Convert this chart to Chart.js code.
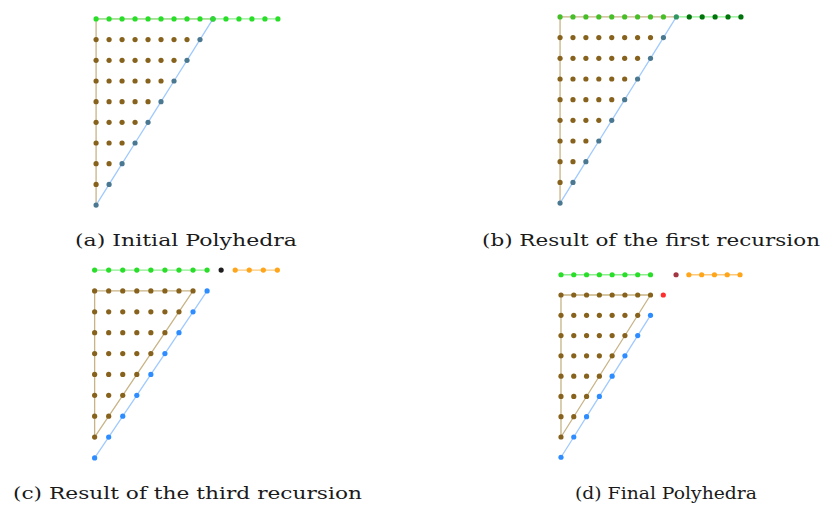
<!DOCTYPE html>
<html><head><meta charset="utf-8">
<script src="https://cdn.jsdelivr.net/npm/chart.js@4"></script>
<style>
html,body{margin:0;padding:0;background:#fff;width:824px;height:507px;overflow:hidden;position:relative}
canvas{position:absolute}
.cap{position:absolute;font-family:"DejaVu Serif",serif;font-size:17.5px;color:#1a1a1a;white-space:nowrap;line-height:1;transform-origin:0 0}
</style></head>
<body>
<canvas id="ca"></canvas><canvas id="cb"></canvas><canvas id="cc"></canvas><canvas id="cd"></canvas>
<div class="cap" id="ta">(a) Initial Polyhedra</div>
<div class="cap" id="tb">(b) Result of the first recursion</div>
<div class="cap" id="tc">(c) Result of the third recursion</div>
<div class="cap" id="td">(d) Final Polyhedra</div>
<script>
// ---------- data (grid coordinates) ----------
// Panel (a)
const aBrownRowY = [1,2,3,4,5,6,7,8];
const aBrownRowN = [1,2,3,4,5,6,7,8];
const aEdgeX = [0,0,9];
const aEdgeY = [0,9,9];
const aBlueX = [0,1,2,3,4,5,6,7,8,9];
const aBlueY = [0,1,2,3,4,5,6,7,8,9];
const aGreenX = [0,1,2,3,4,5,6,7,8,9,10,11,12,13,14];
const aGreenY = [9,9,9,9,9,9,9,9,9,9,9,9,9,9,9];
// Panel (b)
const bBrownRowY = [1,2,3,4,5,6,7,8];
const bBrownRowN = [1,2,3,4,5,6,7,8];
const bEdgeX = [0,0,9];
const bEdgeY = [0,9,9];
const bBlueX = [0,1,2,3,4,5,6,7,8];
const bBlueY = [0,1,2,3,4,5,6,7,8];
const bGreenX = [0,1,2,3,4,5,6,7,8];
const bGreenY = [9,9,9,9,9,9,9,9,9];
const bTealX = [9];
const bTealY = [9];
const bDarkX = [10,11,12,13,14];
const bDarkY = [9,9,9,9,9];
const bGreenLineX = [9,14];
const bGreenLineY = [9,9];
// Panel (c)
const cBrownRowY = [1,2,3,4,5,6,7,8];
const cBrownRowN = [1,2,3,4,5,6,7,8];
const cEdgeX = [0,0,7,0];
const cEdgeY = [1,8,8,1];
const cBlueX = [0,1,2,3,4,5,6,7,8];
const cBlueY = [0,1,2,3,4,5,6,7,8];
const cGreenX = [0,1,2,3,4,5,6,7,8];
const cGreenY = [9,9,9,9,9,9,9,9,9];
const cBlackX = [9];
const cBlackY = [9];
const cOrangeX = [10,11,12,13];
const cOrangeY = [9,9,9,9];
// Panel (d)
const dBrownRowY = [1,2,3,4,5,6,7,8];
const dBrownRowN = [1,2,3,4,5,6,7,8];
const dEdgeX = [0,0,7,0];
const dEdgeY = [1,8,8,1];
const dBlueX = [0,1,2,3,4,5,6,7];
const dBlueY = [0,1,2,3,4,5,6,7];
const dRedX = [8];
const dRedY = [8];
const dGreenX = [0,1,2,3,4,5,6,7];
const dGreenY = [9,9,9,9,9,9,9,9];
const dMaroonX = [9];
const dMaroonY = [9];
const dOrangeX = [10,11,12,13,14];
const dOrangeY = [9,9,9,9,9];

// ---------- styles ----------
const C = {
  brownPt:'rgb(135,98,28)', brownLn:'rgb(200,180,135)',
  greenPt:'rgb(40,222,40)', greenLn:'rgb(140,238,140)',
  bGreenPt:'rgb(70,190,40)', tealPt:'rgb(50,150,100)', darkGreenPt:'rgb(0,115,10)',
  slatePt:'rgb(75,120,145)', bluePt:'rgb(45,140,255)', blueLn:'rgb(160,202,255)',
  orangePt:'rgb(255,165,25)', orangeLn:'rgb(255,200,120)',
  blackPt:'rgb(30,30,30)', maroonPt:'rgb(160,55,65)', redPt:'rgb(255,45,45)'
};

function pts(xs, ys){ return xs.map((x,i)=>({x:x, y:ys[i]})); }
function rows(ry, rn){ const out=[]; ry.forEach((y,k)=>{ for(let i=0;i<rn[k];i++) out.push({x:i,y:y}); }); return out; }
function lineDS(data, color){ return {data:data, showLine:true, borderColor:color, borderWidth:1.3, pointRadius:0, order:10}; }
function ptDS(data, color){ return {data:data, showLine:false, backgroundColor:color, borderWidth:0, pointRadius:2.6, pointHoverRadius:2.6, order:1}; }

function makeChart(id, box, xr, yr, datasets){
  const cv = document.getElementById(id);
  cv.width = box.w; cv.height = box.h;
  cv.style.left = box.l+'px'; cv.style.top = box.t+'px';
  cv.style.width = box.w+'px'; cv.style.height = box.h+'px';
  new Chart(cv, {
    type:'scatter',
    data:{datasets:datasets},
    options:{
      responsive:false, animation:false, devicePixelRatio:1,
      layout:{padding:0},
      plugins:{legend:{display:false}, tooltip:{enabled:false}},
      elements:{line:{tension:0}},
      datasets:{scatter:{clip:false}},
      scales:{
        x:{type:'linear', display:false, min:xr[0], max:xr[1]},
        y:{type:'linear', display:false, min:yr[0], max:yr[1]}
      }
    }
  });
}

makeChart('ca', {l:87,t:6,w:200,h:212}, [-0.5,14.5], [-0.5,9.5], [
  lineDS(pts(aGreenX,aGreenY), C.greenLn),
  lineDS(pts(aBlueX,aBlueY), C.blueLn),
  lineDS(pts(aEdgeX,aEdgeY), C.brownLn),
  ptDS(rows(aBrownRowY,aBrownRowN), C.brownPt),
  ptDS(pts(aGreenX,aGreenY), C.greenPt),
  ptDS(pts(aBlueX,aBlueY), C.slatePt)
]);

makeChart('cb', {l:551,t:4,w:199,h:212}, [-0.5,14.5], [-0.5,9.5], [
  lineDS(pts(bGreenLineX,bGreenLineY), C.greenLn),
  lineDS(pts(aBlueX,aBlueY), C.blueLn),
  lineDS(pts(bEdgeX,bEdgeY), C.brownLn),
  ptDS(rows(bBrownRowY,bBrownRowN), C.brownPt),
  ptDS(pts(bGreenX,bGreenY), C.bGreenPt),
  ptDS(pts(bTealX,bTealY), C.tealPt),
  ptDS(pts(bDarkX,bDarkY), C.darkGreenPt),
  ptDS(pts(bBlueX,bBlueY), C.slatePt)
]);

makeChart('cc', {l:85,t:257,w:202,h:214}, [-0.5,13.5], [-0.5,9.5], [
  lineDS(pts(cGreenX,cGreenY), C.greenLn),
  lineDS(pts(cOrangeX,cOrangeY), C.orangeLn),
  lineDS(pts(cBlueX,cBlueY), C.blueLn),
  lineDS(pts(cEdgeX,cEdgeY), C.brownLn),
  ptDS(rows(cBrownRowY,cBrownRowN), C.brownPt),
  ptDS(pts(cGreenX,cGreenY), C.greenPt),
  ptDS(pts(cBlackX,cBlackY), C.blackPt),
  ptDS(pts(cOrangeX,cOrangeY), C.orangePt),
  ptDS(pts(cBlueX,cBlueY), C.bluePt)
]);

makeChart('cd', {l:552,t:262,w:197,h:208}, [-0.5,14.5], [-0.5,9.5], [
  lineDS(pts(dGreenX,dGreenY), C.greenLn),
  lineDS(pts(dOrangeX,dOrangeY), C.orangeLn),
  lineDS(pts(dBlueX,dBlueY), C.blueLn),
  lineDS(pts(dEdgeX,dEdgeY), C.brownLn),
  ptDS(rows(dBrownRowY,dBrownRowN), C.brownPt),
  ptDS(pts(dGreenX,dGreenY), C.greenPt),
  ptDS(pts(dMaroonX,dMaroonY), C.maroonPt),
  ptDS(pts(dRedX,dRedY), C.redPt),
  ptDS(pts(dOrangeX,dOrangeY), C.orangePt),
  ptDS(pts(dBlueX,dBlueY), C.bluePt)
]);

// captions: [id, left, right, baseline]
const caps = [['ta',75,297,245],['tb',482,820,245],['tc',13,362,498],['td',575,757,498]];
caps.forEach(([id,l,r,base])=>{
  const el = document.getElementById(id);
  const w = el.getBoundingClientRect().width;
  el.style.left = l+'px';
  el.style.top = (base - 13.5)+'px';
  el.style.transform = 'scaleX('+((r-l)/w)+')';
});
</script>
</body></html>
